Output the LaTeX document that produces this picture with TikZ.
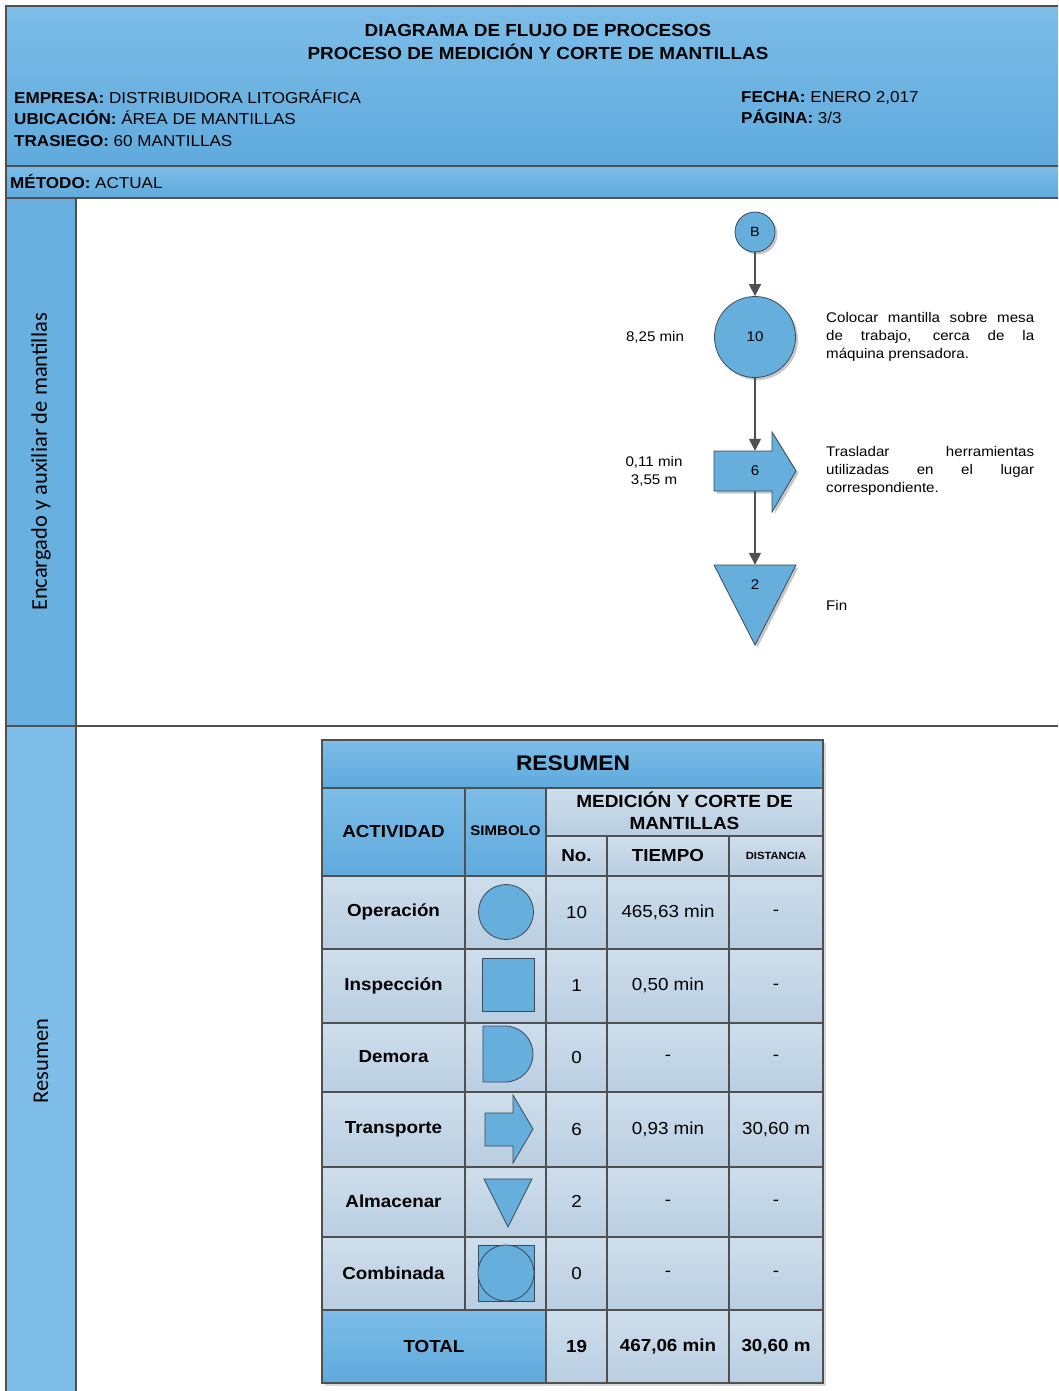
\documentclass[tikz,border=0pt]{standalone}
\usepackage{fontspec}
\setmainfont{Liberation Sans}[FakeStretch=1.08]
\newfontfamily\lanefont{Carlito}
\usetikzlibrary{arrows.meta,shadows}
\definecolor{hdrtop}{HTML}{7CBDE8}
\definecolor{hdrbot}{HTML}{5FAADD}
\definecolor{lanedark}{HTML}{67B0E0}
\definecolor{lanelight}{HTML}{7DBDE7}
\definecolor{celltop}{HTML}{CEDEEC}
\definecolor{cellbot}{HTML}{B9CEE1}
\definecolor{shapefill}{HTML}{66AEDC}
\definecolor{linegray}{HTML}{505050}
\definecolor{shapeline}{HTML}{3A4A58}
\begin{document}
\begin{tikzpicture}[x=1pt,y=-1pt,
  frame/.style={draw=linegray,line width=1.5pt},
  grid/.style={draw=linegray,line width=1.4pt},
  bluecell/.style={top color=hdrtop,bottom color=hdrbot},
  lightcell/.style={top color=celltop,bottom color=cellbot},
  shd/.style={drop shadow={shadow xshift=2.5pt,shadow yshift=-2.5pt,opacity=.22,fill=black}},
  shp/.style={fill=shapefill,draw=shapeline,line width=0.8pt},
  circ/.style={circle,shp,shd,inner sep=0pt},
  conn/.style={draw=linegray,line width=1.6pt,-{Triangle[width=12pt,length=12pt]}},
  fc/.style={font=\fontsize{14}{18}\selectfont,inner sep=0pt},
  desc/.style={fc,anchor=west,text width=208pt,align=justify},
  tb/.style={font=\fontsize{17.4}{20}\selectfont\bfseries,inner sep=0pt},
  tv/.style={font=\fontsize{17.4}{20}\selectfont,inner sep=0pt},
  lane/.style={font=\lanefont\fontsize{22.5}{26}\selectfont,rotate=90,inner sep=0pt},
  sym/.style={fill=shapefill,draw=shapeline,line width=0.8pt}]
\useasboundingbox (0,0) rectangle (1058,1391);
\fill[white] (0,0) rectangle (1058,1391);
% header backgrounds
\path[bluecell] (6,6) rectangle (1058,166);
\path[bluecell] (6,166) rectangle (1058,198);
\fill[lanedark] (6,198) rectangle (76,726);
\fill[lanelight] (6,726) rectangle (76,1391);
% frame
\draw[frame] (6,1391) -- (6,6) -- (1058,6);
\draw[frame] (6,166) -- (1058,166);
\draw[frame] (6,198) -- (1058,198);
\draw[frame] (76,198) -- (76,1391);
\draw[frame] (6,726) -- (1058,726);
% header texts
\node[font=\fontsize{17.5}{23}\selectfont\bfseries,align=center,inner sep=0pt] (title) at (538,41.5)
  {DIAGRAMA DE FLUJO DE PROCESOS\\PROCESO DE MEDICIÓN Y CORTE DE MANTILLAS};
\node[font=\fontsize{15.8}{21.5}\selectfont,align=left,anchor=west,inner sep=0pt] (info) at (14,118)
  {\textbf{EMPRESA:} DISTRIBUIDORA LITOGRÁFICA\\\textbf{UBICACIÓN:} ÁREA DE MANTILLAS\\\textbf{TRASIEGO:} 60 MANTILLAS};
\node[font=\fontsize{15.8}{21.5}\selectfont,align=left,anchor=west,inner sep=0pt] (fecha) at (741,107.5)
  {\textbf{FECHA:} ENERO 2,017\\\textbf{PÁGINA:} 3/3};
\node[font=\fontsize{15.8}{18}\selectfont,anchor=west,inner sep=0pt] (metodo) at (10,182) {\textbf{MÉTODO:} ACTUAL};
% lane labels
\node[lane] (lane1) at (41,462) {Encargado y auxiliar de mantillas};
\node[lane] (lane2) at (41,1061) {Resumen};
% flowchart
\node[circ,minimum size=40pt,font=\fontsize{13.4}{14}\selectfont] (B) at (755,232) {B};
\node[circ,minimum size=81pt,font=\fontsize{14}{15}\selectfont] (op10) at (755,337) {10};
\path[shp,shd] (714,451) -- (772,451) -- (772,432) -- (796,471) -- (772,512) -- (772,491) -- (714,491) -- cycle;
\node[fc,minimum width=82pt,minimum height=40pt] (tr6) at (755,471) {6};
\path[shp,shd] (714,565) -- (796,565) -- (755,645) -- cycle;
\node[fc,minimum width=82pt,minimum height=40pt] (st2) at (755,585) {2};
\draw[conn] (B) -- (op10);
\draw[conn] (op10) -- (tr6.north);
\draw[conn] (tr6.south) -- (st2.north);
\node[fc] (t10) at (655,337) {8,25 min};
\node[fc,align=center] (t6) at (654,471) {0,11 min\\3,55 m};
\node[desc] (d10) at (826,337) {Colocar mantilla sobre mesa\linebreak de trabajo, cerca de la\linebreak máquina prensadora.};
\node[desc] (d6) at (826,471) {Trasladar herramientas\linebreak utilizadas en el lugar\linebreak correspondiente.};
\node[fc,anchor=west] (d2) at (826,605) {Fin};
% table backgrounds
\fill[black,opacity=.15] (325,743) rectangle (826,1386);
\path[bluecell] (322,740) rectangle (823,788);
\path[bluecell] (322,788) rectangle (465,876);
\path[bluecell] (465,788) rectangle (546,876);
\path[bluecell] (322,1310) rectangle (546,1383);
\path[lightcell] (546,788) rectangle (823,836);
\foreach \xa/\xb in {546/607,607/729,729/823}
  \path[lightcell] (\xa,836) rectangle (\xb,876);
\foreach \ya/\yb in {876/949,949/1023,1023/1092,1092/1167,1167/1237,1237/1310}
  \foreach \xa/\xb in {322/465,465/546,546/607,607/729,729/823}
    \path[lightcell] (\xa,\ya) rectangle (\xb,\yb);
\foreach \xa/\xb in {546/607,607/729,729/823}
  \path[lightcell] (\xa,1310) rectangle (\xb,1383);
% grid
\draw[grid] (322,740) rectangle (823,1383);
\draw[grid] (322,788) -- (823,788);
\draw[grid] (546,836) -- (823,836);
\foreach \y in {876,949,1023,1092,1167,1237,1310}
  \draw[grid] (322,\y) -- (823,\y);
\draw[grid] (465,788) -- (465,1310);
\draw[grid] (546,788) -- (546,1383);
\draw[grid] (607,836) -- (607,1383);
\draw[grid] (729,836) -- (729,1383);
% table header texts
\node[font=\fontsize{21.1}{22}\selectfont\bfseries,inner sep=0pt] (res) at (573,763) {RESUMEN};
\node[tb] (hact) at (393.5,832) {ACTIVIDAD};
\node[font=\fontsize{13.9}{15}\selectfont\bfseries,inner sep=0pt] (hsim) at (505.5,831) {SIMBOLO};
\node[font=\fontsize{17.6}{22}\selectfont\bfseries,align=center,inner sep=0pt] (hmed) at (684.5,811) {MEDICIÓN Y CORTE DE\\MANTILLAS};
\node[tb] (hno) at (576.5,856) {No.};
\node[tb] (hti) at (668,856) {TIEMPO};
\node[font=\fontsize{10.4}{12}\selectfont\bfseries,inner sep=0pt] (hdi) at (776,856) {DISTANCIA};
% rows
\node[tb] (a1) at (393.5,912) {Operación};
\node[tb] (a2) at (393.5,985.5) {Inspección};
\node[tb] (a3) at (393.5,1057) {Demora};
\node[tb] (a4) at (393.5,1129.5) {Transporte};
\node[tb] (a5) at (393.5,1201.5) {Almacenar};
\node[tb] (a6) at (393.5,1273) {Combinada};
\node[tv] (n1) at (576.5,912) {10};
\node[tv] (n2) at (576.5,985.5) {1};
\node[tv] (n3) at (576.5,1057) {0};
\node[tv] (n4) at (576.5,1129.5) {6};
\node[tv] (n5) at (576.5,1201.5) {2};
\node[tv] (n6) at (576.5,1273) {0};
\node[tv] (m1) at (668,912) {465,63 min};
\node[tv] (m2) at (668,985.5) {0,50 min};
\node[tv] (m3) at (668,1058) {-};
\node[tv] (m4) at (668,1129.5) {0,93 min};
\node[tv] (m5) at (668,1203) {-};
\node[tv] (m6) at (668,1274) {-};
\node[tv] (k1) at (776,913) {-};
\node[tv] (k2) at (776,987) {-};
\node[tv] (k3) at (776,1058) {-};
\node[tv] (k4) at (776,1129.5) {30,60 m};
\node[tv] (k5) at (776,1203) {-};
\node[tv] (k6) at (776,1274) {-};
\node[tb] (tot) at (434,1346.5) {TOTAL};
\node[tb] (tn) at (576.5,1346.5) {19};
\node[tb] (tm) at (668,1346.5) {467,06 min};
\node[tb] (tk) at (776,1346.5) {30,60 m};
% symbols
\draw[sym] (506,912) circle[radius=27.5];
\draw[sym] (482,958) rectangle (534,1011);
\draw[sym] (483,1026) -- (505,1026) arc[start angle=-90,end angle=90,radius=28] -- (483,1082) -- cycle;
\draw[sym] (485,1113) -- (513,1113) -- (513,1095) -- (533,1129) -- (513,1163) -- (513,1146) -- (485,1146) -- cycle;
\draw[sym] (484,1179) -- (532,1179) -- (508,1227) -- cycle;
\draw[sym] (478,1245) rectangle (534,1301);
\draw[sym] (506,1273) circle[radius=28];
\end{tikzpicture}
\end{document}
